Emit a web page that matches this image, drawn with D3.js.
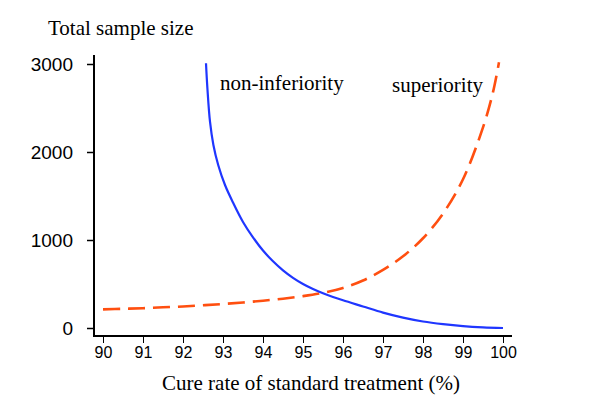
<!DOCTYPE html>
<html>
<head>
<meta charset="utf-8">
<script src="https://cdn.jsdelivr.net/npm/d3@7"></script>
<style>
  html, body { margin: 0; padding: 0; background: #fff; }
  svg { display: block; }
</style>
</head>
<body>
<svg id="chart" width="600" height="416"></svg>
<script>
// ---- data ----
const xTicks = [90, 91, 92, 93, 94, 95, 96, 97, 98, 99, 100];
const yTicks = [0, 1000, 2000, 3000];

const nonInfX = [92.575, 92.61, 92.675, 92.76, 92.88, 93.05, 93.26, 93.5, 93.75, 94.0, 94.25, 94.5, 94.75, 95.0, 95.25, 95.5, 95.75, 96.0, 96.5, 97.0, 97.5, 98.0, 98.5, 99.0, 99.5, 100];
const nonInfY = [3008, 2724, 2344, 2080, 1852, 1625, 1417, 1205, 1030, 880, 758, 655, 570, 500, 443, 395, 353, 315, 245, 175, 118, 74, 44, 22, 8, 0];

const supX = [90, 90.5, 91, 91.5, 92, 92.5, 93, 93.5, 94, 94.5, 95, 95.5, 96, 96.5, 97, 97.5, 98, 98.5, 99, 99.5, 99.75, 99.9];
const supY = [212, 218, 225, 235, 245, 258, 273, 290, 310, 333, 362, 400, 455, 540, 660, 815, 1020, 1300, 1690, 2280, 2680, 3020];

const yTitle = "Total sample size";
const xTitle = "Cure rate of standard treatment (%)";
const labelNonInf = "non-inferiority";
const labelSup = "superiority";

// ---- layout ----
const svg = d3.select("#chart");
const x = d3.scaleLinear().domain([90, 100]).range([103, 503]);
const y = d3.scaleLinear().domain([0, 3000]).range([328, 64]);

const axisX0 = 94, axisY0 = 336;   // axis line positions
const serif = "'Liberation Serif', 'Times New Roman', serif";
const sans = "'Liberation Sans', Arial, sans-serif";

// Y axis
const yAxis = svg.append("g")
  .attr("transform", `translate(${axisX0},0)`)
  .call(d3.axisLeft(y).tickValues(yTicks).tickSize(7).tickPadding(14).tickFormat(d3.format("d")));
yAxis.select(".domain").remove();
yAxis.selectAll(".tick line").attr("stroke", "#000").attr("stroke-width", 1.5);
yAxis.selectAll(".tick text").attr("font-family", sans).attr("font-size", 19).attr("fill", "#000").attr("dy", "0.36em");

// X axis
const xAxis = svg.append("g")
  .attr("transform", `translate(0,${axisY0})`)
  .call(d3.axisBottom(x).tickValues(xTicks).tickSize(7).tickPadding(4).tickFormat(d3.format("d")));
xAxis.select(".domain").remove();
xAxis.selectAll(".tick line").attr("stroke", "#000").attr("stroke-width", 1);
xAxis.selectAll(".tick text").attr("font-family", sans).attr("font-size", 16).attr("fill", "#000");

// axis lines
svg.append("line").attr("x1", axisX0).attr("x2", axisX0).attr("y1", 55).attr("y2", axisY0 + 1)
  .attr("stroke", "#000").attr("stroke-width", 2);
svg.append("line").attr("x1", axisX0 - 1).attr("x2", 512).attr("y1", axisY0).attr("y2", axisY0)
  .attr("stroke", "#000").attr("stroke-width", 2);

// curves
const line = d3.line().x(d => x(d[0])).y(d => y(d[1])).curve(d3.curveCatmullRom.alpha(0.5));

svg.append("path")
  .datum(supX.map((v, i) => [v, supY[i]]))
  .attr("d", line)
  .attr("fill", "none")
  .attr("stroke", "#ff4f10")
  .attr("stroke-width", 2.6)
  .attr("stroke-dasharray", "17,8");

svg.append("path")
  .datum(nonInfX.map((v, i) => [v, nonInfY[i]]))
  .attr("d", line)
  .attr("fill", "none")
  .attr("stroke", "#1f36ff")
  .attr("stroke-width", 2.2);

// texts
svg.append("text").attr("x", 48).attr("y", 35).text(yTitle)
  .attr("font-family", serif).attr("font-size", 21).attr("fill", "#000");
svg.append("text").attr("x", 311).attr("y", 390).attr("text-anchor", "middle").text(xTitle)
  .attr("font-family", serif).attr("font-size", 21).attr("fill", "#000");
svg.append("text").attr("x", 220).attr("y", 90).text(labelNonInf)
  .attr("font-family", serif).attr("font-size", 21).attr("fill", "#000");
svg.append("text").attr("x", 392).attr("y", 92).text(labelSup)
  .attr("font-family", serif).attr("font-size", 21).attr("fill", "#000");
</script>
</body>
</html>
